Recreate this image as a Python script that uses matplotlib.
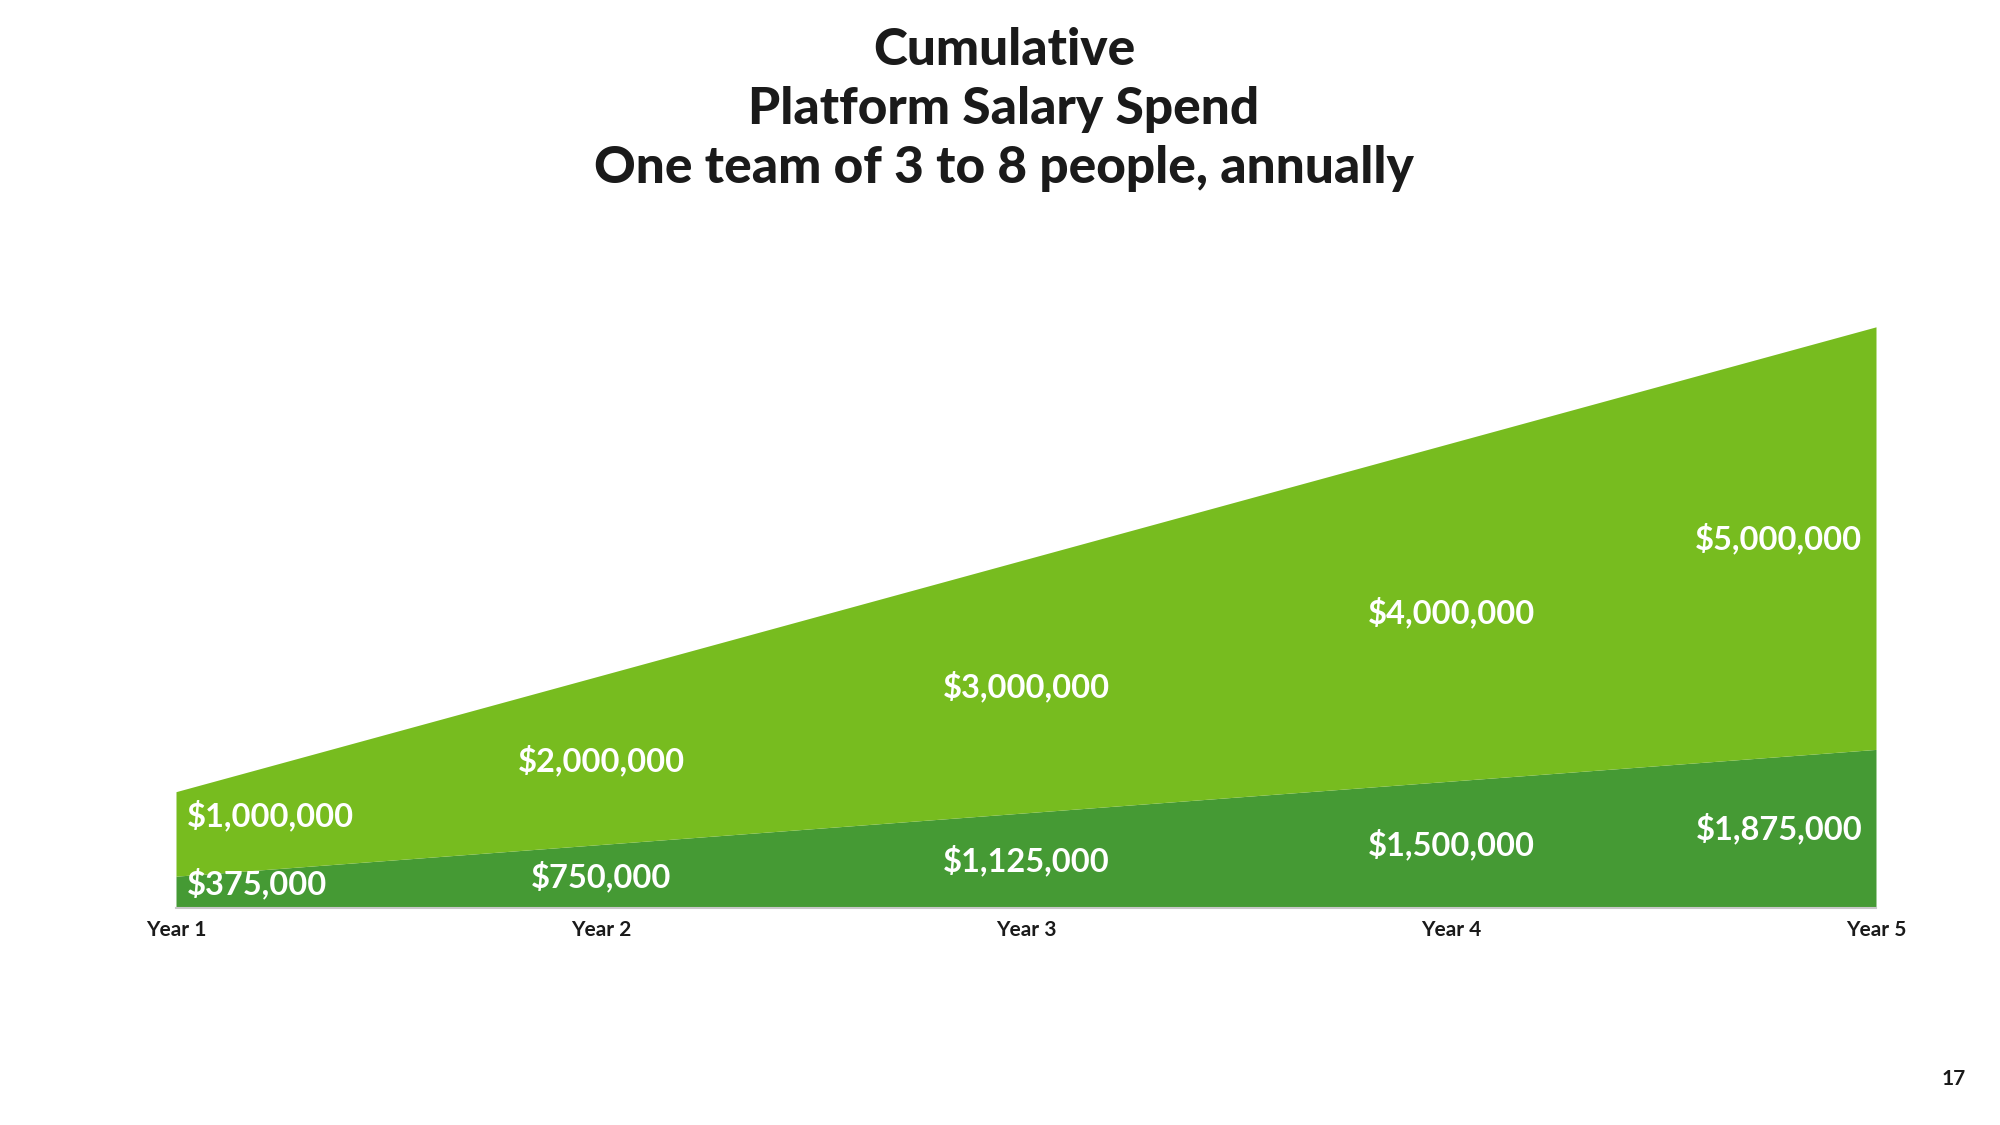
import numpy as np
import matplotlib.pyplot as plt

plt.rcParams['font.family'] = ['Lato', 'DejaVu Sans']

# data
years = ['Year 1', 'Year 2', 'Year 3', 'Year 4', 'Year 5']
base_spend = [375000, 750000, 1125000, 1500000, 1875000]
platform_spend = [1000000, 2000000, 3000000, 4000000, 5000000]

dark_green = '#459A34'
light_green = '#77BC1F'

fig = plt.figure(figsize=(20, 11.25), dpi=100)
ax = fig.add_axes([0.088, 0.193, 0.85, 0.601])

x = np.arange(len(years))
base = np.array(base_spend)
top = base + np.array(platform_spend)

ax.fill_between(x, 0, base, color=dark_green, lw=0)
ax.fill_between(x, base, top, color=light_green, lw=0)

ax.set_xlim(0, len(years) - 1)
ax.set_ylim(0, 8000000)

# labels in the middle of each band
def lab(xi, yi, v, dy=0):
	if xi == 0:
		ha, dx = 'left', 8
	elif xi == len(years) - 1:
		ha, dx = 'right', -10
	else:
		ha, dx = 'center', 0
	ax.annotate('${:,.0f}'.format(v), (xi, yi), xytext=(dx, dy), textcoords='offset points',
				ha=ha, va='center', color='white', fontsize=23.5, fontweight='bold')

for i in range(len(years)):
	lab(i, base[i] / 2, base_spend[i], dy=6 if i == 0 else 0)
	lab(i, base[i] + platform_spend[i] / 2, platform_spend[i], dy=13 if i == 0 else 0)

ax.set_xticks(x)
ax.set_xticklabels(years, fontsize=15, fontweight='bold', color='#1a1a1a')
ax.tick_params(axis='x', length=0, pad=9)
ax.set_yticks([])
for s in ['top', 'left', 'right']:
	ax.spines[s].set_visible(False)
ax.spines['bottom'].set_color('#c8c8c8')
ax.spines['bottom'].set_linewidth(1.5)

fig.text(0.502, 0.976, 'Cumulative\nPlatform Salary Spend\nOne team of 3 to 8 people, annually',
		 ha='center', va='top', fontsize=37, fontweight='black', color='#1a1a1a', linespacing=1.32)
fig.text(0.977, 0.041, '17', ha='center', va='center', fontsize=15, fontweight='bold', color='#1a1a1a')

fig.savefig('out.png', dpi=100, facecolor='white')
